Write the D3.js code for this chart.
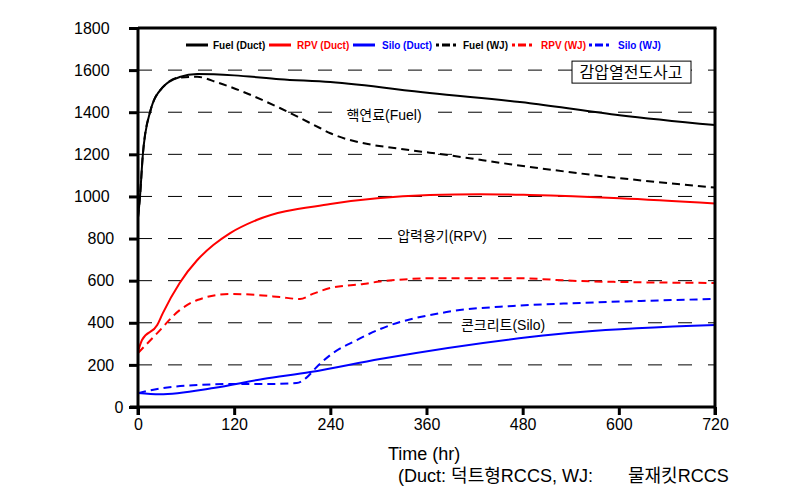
<!DOCTYPE html>
<html><head><meta charset="utf-8">
<script src="https://cdn.jsdelivr.net/npm/d3@7"></script>
<style>
body{margin:0;background:#fff;}
text{font-family:"Liberation Sans","Noto Sans CJK KR",sans-serif;}
</style></head>
<body><svg id="c" width="805" height="490"></svg>
<script>
const xTicks = [0,120,240,360,480,600,720];
const yTicks = [0,200,400,600,800,1000,1200,1400,1600,1800];
const gridValues = [200,400,600,800,1000,1200,1400,1600];

const fuelDuct = [[0,900],[2.5,1000],[6,1197],[15,1400],[31,1519],[52,1567],[74,1581],[120,1575],[177,1557],[240,1543],[364,1491],[489,1443],[601,1386],[720,1339]];
const fuelWJ = [[0,900],[2.5,1000],[6,1197],[15,1400],[31,1519],[52,1565],[74,1568],[100,1540],[177,1420],[227,1325],[240,1300],[339,1220],[364,1208],[489,1140],[601,1087],[720,1042]];
const rpvDuct = [[0,262],[5,318],[24,389],[31,446],[52,589],[74,698],[94,769],[115,826],[148,888],[240,964],[364,1007],[427,1011],[489,1007],[601,992],[720,967]];
const rpvWJ = [[0,256],[24,351],[52,460],[74,508],[115,537],[148,532],[177,522],[202,513],[218,537],[240,565],[281,584],[302,596],[377,612],[468,612],[552,598],[720,589]];
const siloDuct = [[0,66],[27,60],[94,90],[156,133],[215,166],[302,228],[489,332],[552,356],[720,389]];
const siloWJ = [[0,66],[31,90],[74,104],[115,109],[156,109],[198,114],[211,142],[223,190],[240,247],[273,318],[302,370],[385,451],[468,480],[552,494],[720,513]];

const seriesNames = ["Fuel (Duct)","RPV (Duct)","Silo (Duct)","Fuel (WJ)","RPV (WJ)","Silo (WJ)"];
const seriesData = [fuelDuct,rpvDuct,siloDuct,fuelWJ,rpvWJ,siloWJ];
const seriesColors = ["#000","#ff0000","#0000ff","#000","#ff0000","#0000ff"];
const seriesDashed = [false,false,false,true,true,true];

const svg = d3.select("#c");
const x = d3.scaleLinear().domain([0,720]).range([138,715]);
const y = d3.scaleLinear().domain([0,1800]).range([407,28]);

// grid
svg.selectAll(".grid").data(gridValues).enter().append("line")
  .attr("x1",x(0)).attr("x2",x(720)).attr("y1",d=>y(d)).attr("y2",d=>y(d))
  .attr("stroke","#000").attr("stroke-width",1).attr("stroke-dasharray","14,16");

// curves
const line = d3.line().x(d=>x(d[0])).y(d=>y(d[1])).curve(d3.curveMonotoneX);
seriesData.forEach((s,i)=>{
  svg.append("path").attr("d",line(s)).attr("fill","none")
    .attr("stroke",seriesColors[i]).attr("stroke-width",2)
    .attr("stroke-dasharray",seriesDashed[i]?"8,5":null);
});

// frame top / right
svg.append("line").attr("x1",x(0)).attr("x2",x(720)+1.5).attr("y1",y(1800)).attr("y2",y(1800)).attr("stroke","#000").attr("stroke-width",3);
svg.append("line").attr("x1",x(720)).attr("x2",x(720)).attr("y1",y(1800)).attr("y2",y(0)+8).attr("stroke","#000").attr("stroke-width",3);

// axes
const xAxis = svg.append("g").attr("transform",`translate(0,${y(0)})`)
  .call(d3.axisBottom(x).tickValues(xTicks).tickSize(8).tickPadding(4).tickFormat(d3.format("d")));
const yAxis = svg.append("g").attr("transform",`translate(${x(0)},0)`)
  .call(d3.axisLeft(y).tickValues(yTicks).tickSize(9).tickPadding(5).tickFormat(d3.format("d")));
[xAxis,yAxis].forEach(g=>{
  g.select(".domain").attr("stroke-width",3).attr("d", g===xAxis ? `M${x(0)-8},0H${x(720)}` : `M0,${y(0)+8}V${y(1800)}`);
  g.selectAll(".tick line").attr("stroke-width",3);
  g.selectAll(".tick text").attr("font-size",16).attr("fill","#000")
    .style("font-family","Liberation Sans, Arial, sans-serif");
});
// y labels: left-start positions as in the reference
yAxis.selectAll(".tick text").attr("text-anchor","start")
  .attr("x",function(){ return -10 - 13.5*this.textContent.length; });

// axis titles
svg.append("text").attr("x",388).attr("y",460).attr("font-size",18).text("Time (hr)");
const cap = svg.append("g").attr("font-size",18);
cap.append("text").attr("x",398).attr("y",482).attr("textLength",195).attr("lengthAdjust","spacingAndGlyphs").text("(Duct: 덕트형RCCS, WJ:");
cap.append("text").attr("x",628).attr("y",482).text("물재킷RCCS");

// legend
const legX = [186,269,353,436,512,589];
const legTextX = [213,297,382,463,541,618];
seriesNames.forEach((n,i)=>{
  svg.append("line").attr("x1",legX[i]).attr("x2",legX[i]+22).attr("y1",45).attr("y2",45)
    .attr("stroke",seriesColors[i]).attr("stroke-width",3)
    .attr("stroke-dasharray",seriesDashed[i]?"3,3,8,3":null);
  svg.append("text").attr("x",legTextX[i]).attr("y",49).attr("font-size",10).attr("font-weight","bold")
    .attr("fill",seriesColors[i]).text(n);
});

// labels with white background
function bgLabel(txt,cx,cy,fs){
  const g = svg.append("g");
  const t = g.append("text").attr("x",cx).attr("y",cy).attr("font-size",fs)
    .attr("text-anchor","middle").attr("dominant-baseline","central").text(txt);
  const b = t.node().getBBox();
  g.insert("rect","text").attr("x",b.x-3).attr("y",b.y).attr("width",b.width+6).attr("height",b.height).attr("fill","#fff");
  return g;
}
bgLabel("핵연료(Fuel)",384,y(1400)+3,14);
bgLabel("압력용기(RPV)",442,y(800)-3,14);
bgLabel("콘크리트(Silo)",503,y(400)+2,14);

// accident box
const bx = svg.append("g");
bx.append("rect").attr("x",572).attr("y",y(1600)-9).attr("width",119).attr("height",22).attr("fill","#fff").attr("stroke","#000").attr("stroke-width",1);
bx.append("text").attr("x",631).attr("y",y(1600)+2).attr("font-size",16).attr("text-anchor","middle").attr("dominant-baseline","central").text("감압열전도사고");
</script></body></html>
